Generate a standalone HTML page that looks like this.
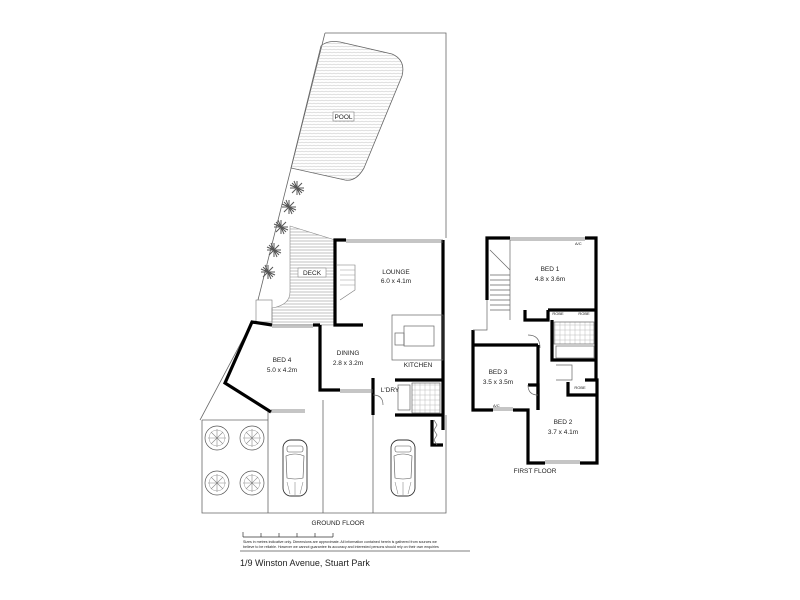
<!DOCTYPE html>
<html><head><meta charset="utf-8"><style>
html,body{margin:0;padding:0;background:#fff;width:800px;height:600px;overflow:hidden}
svg{display:block}
text{font-family:"Liberation Sans",sans-serif;fill:#222}
</style></head><body>
<svg width="800" height="600" viewBox="0 0 800 600">
<defs>
<pattern id="hz" width="4" height="3" patternUnits="userSpaceOnUse"><line x1="0" y1="1" x2="4" y2="1" stroke="#999" stroke-width="0.6"/></pattern>
<pattern id="zz" width="4" height="3" patternUnits="userSpaceOnUse"><path d="M0 2 L2 1 L4 2" fill="none" stroke="#bbb" stroke-width="0.5"/></pattern>
<pattern id="tile" width="5" height="5" patternUnits="userSpaceOnUse"><rect width="5" height="5" fill="none" stroke="#bbb" stroke-width="0.5"/></pattern>
<g id="tree"><circle r="12" fill="none" stroke="#555" stroke-width="0.7"/><path d="M-9 0H9M0-9V9M-6-6L6 6M-6 6L6-6" stroke="#888" stroke-width="0.6"/><circle r="8" fill="none" stroke="#999" stroke-width="0.5"/></g>
<g id="plant"><path d="M-7 0L7 0M0-7L0 7M-5-5L5 5M-5 5L5-5M-3-7L3 7M-7-3L7 3" stroke="#555" stroke-width="1"/></g>
<g id="car"><rect x="-12" y="-28" width="24" height="56" rx="8" fill="#fff" stroke="#333" stroke-width="0.9"/><rect x="-8" y="-22" width="16" height="6" rx="2" fill="none" stroke="#555" stroke-width="0.6"/><path d="M-9 -12Q0 -16 9 -12L8 10Q0 12 -8 10Z" fill="none" stroke="#555" stroke-width="0.6"/><path d="M-8 14L-5 26M8 14L5 26M0 14V27" stroke="#777" stroke-width="0.5"/></g>
</defs>

<!-- site lines -->
<g fill="none" stroke="#666" stroke-width="0.8">
<path d="M325 33 H446 V238"/>
<path d="M325 33 L258 300"/>
<path d="M252 322 L200 420"/>
<path d="M202 420 V513 H446 V415"/>
<path d="M268 412 V513 M323 400 V513 M373 415 V513"/>
<path d="M202 420 H268"/>
</g>
<!-- pool -->
<path d="M321 46 Q327 40 340 42 L392 54 Q406 60 402 76 L364 168 Q356 182 345 180 L291 168 Z" fill="url(#zz)" stroke="#666" stroke-width="0.8"/>
<rect x="333" y="112" width="21" height="9" fill="#fff" stroke="#666" stroke-width="0.5"/>
<text x="343.5" y="119" font-size="6.5" text-anchor="middle">POOL</text>
<!-- plants -->
<use href="#plant" x="297" y="188"/><use href="#plant" x="289" y="207"/><use href="#plant" x="281" y="227"/><use href="#plant" x="274" y="250"/><use href="#plant" x="268" y="272"/>
<!-- deck -->
<path d="M290 226 L335 240 V325 H272 V308 Q290 305 290 292 Z" fill="url(#hz)" stroke="#888" stroke-width="0.6"/>
<rect x="298" y="268" width="28" height="9" fill="#fff" stroke="#777" stroke-width="0.5"/>
<text x="312" y="275" font-size="6.5" text-anchor="middle">DECK</text>
<rect x="256" y="300" width="16" height="22" fill="none" stroke="#777" stroke-width="0.6"/>
<!-- stair lounge -->
<path d="M337 265 H355 V290 L340 300" fill="none" stroke="#777" stroke-width="0.6"/>
<path d="M340 270H355M340 275H355M340 280H355M340 285H355" stroke="#999" stroke-width="0.5"/>

<!-- ground floor walls -->
<g fill="none" stroke="#000" stroke-width="3.2" stroke-linejoin="miter">
<path d="M346 240 H335 V325 H363"/>
<path d="M443 240 V430"/>
<path d="M272 325 L252 322 L225 383 L271 412"/>
<path d="M320 325 V390 H340"/>
<path d="M313 325 H320"/>
<path d="M373 378 V415"/>
<path d="M395 380 H443"/>
<path d="M395 415 H443"/>
<path d="M432 420 V445 H443"/>
</g>
<g stroke="#666" stroke-width="0.7" fill="none">
<path d="M346 240 H443 M346 242 H443"/>
<path d="M272 325 H313 M272 327 H313"/>
<path d="M271 412 H305 M271 410 H305"/>
<path d="M340 390 H373 M340 392 H373"/>
<rect x="392" y="315" width="51" height="45"/>
<rect x="404" y="326" width="30" height="20"/>
<rect x="395" y="333" width="9" height="12"/>
<path d="M373 395 Q383 395 383 405"/>
<rect x="398" y="385" width="12" height="25"/><rect x="412" y="383" width="28" height="30" fill="url(#tile)"/>
<path d="M434 420 l3 5 -3 5 3 5 -3 5 3 5"/>
</g>
<text x="396" y="274" font-size="6.5" text-anchor="middle">LOUNGE</text>
<text x="396" y="283" font-size="6.5" text-anchor="middle">6.0 x 4.1m</text>
<text x="282" y="362" font-size="6.5" text-anchor="middle">BED 4</text>
<text x="282" y="372" font-size="6.5" text-anchor="middle">5.0 x 4.2m</text>
<text x="348" y="355" font-size="6.5" text-anchor="middle">DINING</text>
<text x="348" y="365" font-size="6.5" text-anchor="middle">2.8 x 3.2m</text>
<text x="418" y="367" font-size="6.5" text-anchor="middle">KITCHEN</text>
<text x="390" y="392" font-size="6.5" text-anchor="middle">L'DRY</text>

<use href="#tree" x="217" y="438"/><use href="#tree" x="252" y="438"/><use href="#tree" x="217" y="483"/><use href="#tree" x="252" y="483"/>
<use href="#car" x="295" y="468"/><use href="#car" x="403" y="468"/>

<!-- first floor -->
<g fill="none" stroke="#000" stroke-width="3.2">
<path d="M510 238 H487 V300"/>
<path d="M585 238 H596 V380"/>
<path d="M473 330 V410 H493"/>
<path d="M513 410 H528 V463 H545"/>
<path d="M580 463 H597 V380 H585"/>
<path d="M525 310 V320 H548 V310 M548 310 H596"/>
<path d="M552 320 V360 H596"/>
<path d="M538 345 H473"/>
<path d="M538 345 V410"/>
<path d="M528 385 H538 V410"/>
<path d="M568 382 V395 H597"/>
</g>
<g stroke="#666" stroke-width="0.7" fill="none">
<path d="M510 238 H585 M510 240 H585"/>
<path d="M545 463 H580 M545 461 H580"/>
<path d="M493 410 H513 M493 408 H513"/>
<path d="M487 300 V330 H473"/>
<path d="M490 275 H510 M490 280 H510 M490 285 H510 M490 290 H510 M490 295 H510 M490 300 H510 M490 305H510M490 310H510"/>
<path d="M490 250 L510 270"/>
<path d="M510 240 V320"/>
<rect x="554" y="322" width="40" height="22" fill="url(#tile)"/>
<rect x="556" y="346" width="38" height="12"/>
<path d="M556 365 H572 V380 H556"/>
<path d="M528 335 Q540 335 540 348"/>
<path d="M538 395 Q528 395 528 385"/>
</g>
<text x="550" y="271" font-size="6.5" text-anchor="middle">BED 1</text>
<text x="550" y="281" font-size="6.5" text-anchor="middle">4.8 x 3.6m</text>
<text x="498" y="374" font-size="6.5" text-anchor="middle">BED 3</text>
<text x="498" y="384" font-size="6.5" text-anchor="middle">3.5 x 3.5m</text>
<text x="563" y="424" font-size="6.5" text-anchor="middle">BED 2</text>
<text x="563" y="434" font-size="6.5" text-anchor="middle">3.7 x 4.1m</text>
<text x="575" y="245" font-size="4">A/C</text>
<text x="493" y="407" font-size="4">A/C</text>
<text x="558" y="315" font-size="4" text-anchor="middle">ROBE</text>
<text x="584" y="315" font-size="4" text-anchor="middle">ROBE</text>
<text x="580" y="389" font-size="4" text-anchor="middle">ROBE</text>
<text x="535" y="473" font-size="6.5" text-anchor="middle">FIRST FLOOR</text>

<!-- footer -->
<text x="338" y="525" font-size="6.5" text-anchor="middle">GROUND FLOOR</text>
<path d="M243 537 H333 M243 532 V537 M261 533 V537 M279 533 V537 M297 533 V537 M315 533 V537 M333 533 V537" stroke="#333" stroke-width="0.7" fill="none"/>
<text x="243" y="543" font-size="3.6">Sizes in metres indicative only. Dimensions are approximate. All information contained herein is gathered from sources we</text>
<text x="243" y="548" font-size="3.6">believe to be reliable. However we cannot guarantee its accuracy and interested persons should rely on their own enquiries</text>
<line x1="240" y1="551" x2="470" y2="551" stroke="#555" stroke-width="0.8"/>
<text x="240" y="566" font-size="9" fill="#333">1/9 Winston Avenue, Stuart Park</text>
</svg>
</body></html>
